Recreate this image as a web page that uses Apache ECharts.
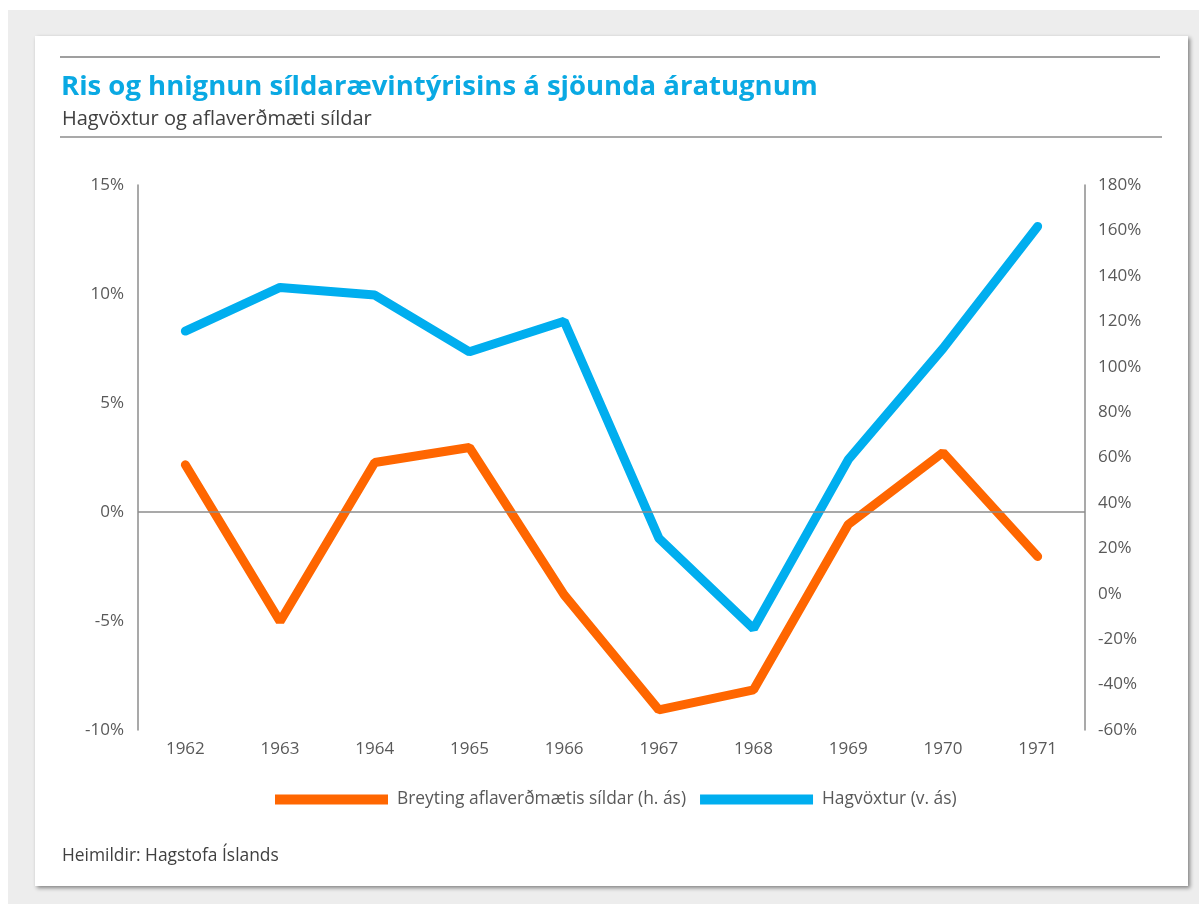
<!DOCTYPE html>
<html>
<head>
<meta charset="utf-8">
<script src="https://cdn.jsdelivr.net/npm/echarts@6/dist/echarts.min.js"></script>
<style>
  html, body { margin: 0; padding: 0; background: #ffffff; }
  .page { position: absolute; left: 8px; top: 10px; width: 1191px; height: 894px; background: #ededed; }
  .card { position: absolute; left: 35px; top: 36px; width: 1153px; height: 850px; background: #ffffff;
          box-shadow: 2px 2px 4px rgba(0,0,0,0.45); }
  #chart { position: absolute; left: 0; top: 0; width: 1199px; height: 904px; }
</style>
</head>
<body>
<div class="page"></div>
<div class="card"></div>
<div id="chart"></div>
<script>
  // ár
  var years = ['1962', '1963', '1964', '1965', '1966', '1967', '1968', '1969', '1970', '1971'];
  // Hagvöxtur, % (vinstri ás)
  var hagvoxtur = [8.3, 10.3, 9.95, 7.35, 8.75, -1.2, -5.35, 2.4, 7.5, 13.1];
  // Breyting aflaverðmætis síldar, % (hægri ás)
  var aflaverdmaeti = [56.8, -12.2, 57.8, 64.4, -0.5, -51.1, -42.3, 30.5, 62.2, 16.4];

  var textGray = '#595959';
  var font = '"Open Sans", "Noto Sans", sans-serif';

  var myChart = echarts.init(document.getElementById('chart'));
  myChart.setOption({
    animation: false,
    textStyle: { fontFamily: font },
    title: [
      {
        text: 'Ris og hnignun síldarævintýrisins á sjöunda áratugnum',
        left: 61, top: 73, padding: 0,
        textStyle: { fontSize: 27.5, fontWeight: 'bold', color: '#0aa9e3', fontFamily: font }
      },
      {
        text: 'Hagvöxtur og aflaverðmæti síldar',
        left: 62, top: 109, padding: 0,
        textStyle: { fontSize: 20, fontWeight: 'normal', color: '#404040', fontFamily: font }
      },
      {
        text: 'Heimildir: Hagstofa Íslands',
        left: 62, top: 848, padding: 0,
        textStyle: { fontSize: 17.4, fontWeight: 'normal', color: '#404040', fontFamily: font }
      }
    ],
    graphic: [
      { type: 'line', shape: { x1: 60, y1: 57, x2: 1160, y2: 57 }, style: { stroke: '#7f7f7f', lineWidth: 1.5 } },
      { type: 'line', shape: { x1: 60, y1: 137, x2: 1162, y2: 137 }, style: { stroke: '#8c8c8c', lineWidth: 1.5 } }
    ],
    legend: {
      left: 275, top: 791, padding: 0,
      itemWidth: 113, itemHeight: 10, itemGap: 14,
      icon: 'rect',
      textStyle: { fontSize: 17.4, color: textGray, fontFamily: font, padding: [0, 0, 0, 4] },
      data: ['Breyting aflaverðmætis síldar (h. ás)', 'Hagvöxtur (v. ás)']
    },
    grid: { left: 138, right: 114, top: 185, bottom: 174 },
    xAxis: {
      type: 'category',
      data: years,
      axisLine: { show: false },
      axisTick: { show: false },
      axisLabel: { fontSize: 17, color: textGray, margin: 11 }
    },
    yAxis: [
      {
        type: 'value',
        min: -10, max: 15, interval: 5,
        axisLine: { show: true, lineStyle: { color: '#8c8c8c', width: 1.5 } },
        axisTick: { show: false },
        splitLine: { show: false },
        axisLabel: { fontSize: 17, color: textGray, margin: 14, formatter: '{value}%' }
      },
      {
        type: 'value',
        min: -60, max: 180, interval: 20,
        position: 'right',
        axisLine: { show: true, lineStyle: { color: '#8c8c8c', width: 1.5 } },
        axisTick: { show: false },
        splitLine: { show: false },
        axisLabel: { fontSize: 17, color: textGray, margin: 13, formatter: '{value}%' }
      }
    ],
    series: [
      {
        name: 'Breyting aflaverðmætis síldar (h. ás)',
        type: 'line',
        yAxisIndex: 1,
        data: aflaverdmaeti,
        showSymbol: false,
        color: '#ff6600',
        lineStyle: { width: 9, cap: 'round' }
      },
      {
        name: 'Hagvöxtur (v. ás)',
        type: 'line',
        yAxisIndex: 0,
        data: hagvoxtur,
        showSymbol: false,
        color: '#00aeef',
        lineStyle: { width: 9, cap: 'round' },
        markLine: {
          silent: true,
          symbol: 'none',
          label: { show: false },
          lineStyle: { color: '#8c8c8c', width: 1.5, type: 'solid' },
          data: [{ yAxis: 0 }]
        },
        z: 1
      }
    ]
  });
</script>
</body>
</html>
